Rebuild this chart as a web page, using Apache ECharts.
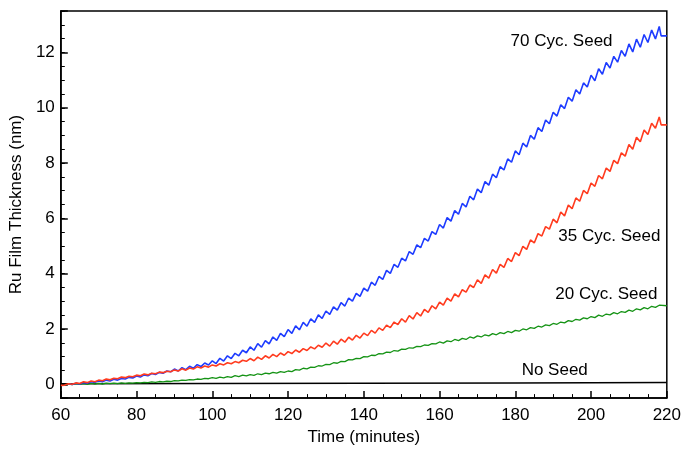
<!DOCTYPE html>
<html>
<head>
<meta charset="utf-8">
<script src="https://cdn.jsdelivr.net/npm/echarts@6/dist/echarts.min.js"></script>
<style>
html,body{margin:0;padding:0;background:#fff;}
#main{width:684px;height:451px;}
</style>
</head>
<body>
<div id="main"></div>
<script>
// ---- Data (time in minutes, thickness in nm), one value per minute ----
const blueStart = 62;
const blueVals = [
0.02,-0.01,0.04,0.01,0.06,0.04,0.09,0.07,0.12,0.09,
0.15,0.12,0.18,0.15,0.21,0.19,0.25,0.23,0.30,0.26,
0.34,0.31,0.39,0.35,0.43,0.40,0.48,0.45,0.55,0.48,
0.60,0.53,0.65,0.58,0.71,0.64,0.77,0.70,0.85,0.75,
0.94,0.84,1.03,0.93,1.12,1.03,1.23,1.14,1.35,1.23,
1.47,1.34,1.58,1.46,1.71,1.59,1.84,1.72,1.98,1.84,
2.11,1.97,2.24,2.10,2.37,2.24,2.51,2.38,2.65,2.53,
2.80,2.68,2.95,2.83,3.12,3.01,3.29,3.18,3.48,3.37,
3.69,3.58,3.90,3.79,4.12,4.01,4.34,4.23,4.56,4.46,
4.80,4.70,5.04,4.94,5.28,5.18,5.52,5.42,5.78,5.65,
6.03,5.90,6.28,6.15,6.54,6.41,6.80,6.67,7.06,6.93,
7.33,7.20,7.60,7.47,7.87,7.75,8.15,8.03,8.44,8.30,
8.72,8.58,9.00,8.86,9.28,9.14,9.56,9.42,9.84,9.70,
10.11,9.97,10.38,10.24,10.65,10.50,10.90,10.75,11.18,10.98,
11.41,11.21,11.64,11.44,11.86,11.65,12.07,11.86,12.31,12.02,
12.48,12.19,12.65,12.36,12.81,12.49,12.94
];
const redStart = 60;
const redVals = [
-0.04,-0.03,
0.02,0.00,0.05,0.03,0.09,0.06,0.12,0.09,0.15,0.13,
0.19,0.16,0.22,0.20,0.26,0.24,0.29,0.27,0.33,0.31,
0.37,0.34,0.40,0.38,0.44,0.42,0.47,0.45,0.52,0.48,
0.56,0.51,0.59,0.55,0.63,0.59,0.66,0.62,0.70,0.66,
0.74,0.70,0.78,0.74,0.82,0.78,0.87,0.83,0.93,0.85,
0.98,0.90,1.03,0.95,1.08,1.00,1.13,1.05,1.18,1.11,
1.24,1.16,1.29,1.22,1.35,1.28,1.41,1.34,1.49,1.38,
1.56,1.45,1.63,1.52,1.70,1.60,1.77,1.67,1.85,1.76,
1.95,1.85,2.04,1.95,2.14,2.05,2.25,2.16,2.37,2.25,
2.48,2.36,2.59,2.47,2.71,2.60,2.84,2.73,2.97,2.86,
3.12,3.01,3.27,3.16,3.42,3.33,3.59,3.50,3.78,3.65,
3.96,3.84,4.15,4.02,4.34,4.23,4.55,4.44,4.76,4.65,
4.99,4.88,5.22,5.11,5.45,5.36,5.70,5.61,5.97,5.84,
6.23,6.09,6.48,6.35,6.74,6.62,7.01,6.89,7.28,7.16,
7.55,7.43,7.82,7.70,8.10,7.98,8.37,8.25,8.67,8.50,
8.93,8.77,9.20,9.03,9.44,9.26,9.67
];
const greenStart = 62;
const greenVals = [
0.01,-0.01,0.02,0.00,0.02,0.00,0.03,0.01,0.03,0.01,
0.04,0.02,0.04,0.02,0.05,0.03,0.05,0.04,0.06,0.05,
0.07,0.06,0.09,0.07,0.10,0.09,0.11,0.10,0.13,0.12,
0.15,0.14,0.17,0.16,0.19,0.18,0.21,0.20,0.24,0.21,
0.26,0.23,0.28,0.25,0.31,0.28,0.33,0.30,0.35,0.32,
0.38,0.35,0.40,0.38,0.43,0.40,0.46,0.43,0.48,0.46,
0.53,0.51,0.58,0.56,0.62,0.61,0.67,0.66,0.72,0.71,
0.78,0.76,0.83,0.82,0.89,0.88,0.94,0.93,1.00,0.99,
1.05,1.04,1.11,1.10,1.16,1.15,1.22,1.20,1.27,1.26,
1.32,1.31,1.37,1.36,1.42,1.41,1.47,1.46,1.53,1.49,
1.57,1.54,1.62,1.58,1.66,1.62,1.71,1.67,1.75,1.71,
1.79,1.75,1.83,1.79,1.87,1.83,1.91,1.87,1.95,1.92,
2.00,1.97,2.05,2.02,2.10,2.07,2.15,2.12,2.20,2.17,
2.25,2.22,2.30,2.27,2.35,2.32,2.40,2.37,2.45,2.41,
2.50,2.46,2.54,2.51,2.59,2.55,2.63,2.60,2.68,2.64,
2.73,2.69,2.77,2.73,2.82,2.78,2.86
];
const tailTimes = [218.5, 220];
const blueTail = [12.6, 12.6];
const redTail = [9.38, 9.38];
const greenTail = [2.84, 2.84];
const blackTimes = [60, 100, 140, 180, 220];
const blackVals = [0.02, 0.03, 0.04, 0.05, 0.06];

const labelNames = ['70 Cyc. Seed', '35 Cyc. Seed', '20 Cyc. Seed', 'No Seed'];
const labelTimes = [192.2, 218.3, 217.5, 190.4];
const labelVals = [12.42, 5.35, 3.24, 0.49];
const labelAlign = ['center', 'right', 'right', 'center'];

const xTicks = [60, 80, 100, 120, 140, 160, 180, 200, 220];

function build(start, vals, tailT, tailV) {
  const d = vals.map((v, i) => [start + i, v]);
  if (tailT) tailT.forEach((t, i) => d.push([t, tailV[i]]));
  return d;
}

const FONT = '"Liberation Sans", Arial, Helvetica, sans-serif';
const chart = echarts.init(document.getElementById('main'), null, {renderer: 'canvas'});
const option = {
  animation: false,
  backgroundColor: '#fff',
  grid: {left: 58, right: 16, top: 11, bottom: 49, show: true, borderColor: '#000', borderWidth: 1.5, backgroundColor: 'transparent'},
  xAxis: {
    type: 'value', min: xTicks[0], max: xTicks[xTicks.length - 1], interval: 20,
    name: 'Time (minutes)', nameLocation: 'middle', nameGap: 28,
    nameTextStyle: {fontFamily: FONT, fontSize: 17, color: '#000'},
    axisLine: {onZero: false, lineStyle: {color: '#000', width: 1.5}},
    axisTick: {inside: true, length: 7, lineStyle: {color: '#000', width: 1.5}},
    minorTick: {show: true, splitNumber: 4, length: 4, lineStyle: {color: '#000', width: 1}},
    axisLabel: {fontFamily: FONT, fontSize: 17, color: '#000', margin: 9},
    splitLine: {show: false}
  },
  yAxis: [
    {
      type: 'value', min: -0.5, max: 13.5, interval: 0.5,
      axisLine: {onZero: false, lineStyle: {color: '#000', width: 1.5}},
      axisTick: {inside: true, length: 4, lineStyle: {color: '#000', width: 1}},
      axisLabel: {show: false},
      splitLine: {show: false}
    },
    {
      type: 'value', min: -0.5, max: 13.5, splitNumber: 7, position: 'left',
      name: 'Ru Film Thickness (nm)', nameLocation: 'middle', nameGap: 34,
      nameTextStyle: {fontFamily: FONT, fontSize: 17, color: '#000'},
      axisLine: {show: false, onZero: false},
      axisTick: {inside: true, length: 7, lineStyle: {color: '#000', width: 1.5}},
      axisLabel: {fontFamily: FONT, fontSize: 17, color: '#000', margin: 6,
        formatter: v => (Math.abs(v - Math.round(v / 2) * 2) < 1e-6 ? String(Math.round(v)) : '')},
      splitLine: {show: false}
    }
  ],
  series: [
    {type: 'line', name: 'No Seed', data: blackTimes.map((t, i) => [t, blackVals[i]]),
     showSymbol: false, lineStyle: {color: '#000', width: 1.5}, z: 2},
    {type: 'line', name: '20 Cyc. Seed', data: build(greenStart, greenVals, tailTimes, greenTail),
     showSymbol: false, lineStyle: {color: '#159315', width: 1.3}, z: 3},
    {type: 'line', name: '70 Cyc. Seed', data: build(blueStart, blueVals, tailTimes, blueTail),
     showSymbol: false, lineStyle: {color: '#1e3cff', width: 1.6}, z: 4},
    {type: 'line', name: '35 Cyc. Seed', data: build(redStart, redVals, tailTimes, redTail),
     showSymbol: false, lineStyle: {color: '#ff3b1f', width: 1.6}, z: 5},
    {type: 'scatter', name: 'labels', symbolSize: 0, silent: true, z: 10,
     data: labelNames.map((n, i) => ({
       value: [labelTimes[i], labelVals[i]],
       label: {show: true, position: 'inside', formatter: n, align: labelAlign[i], verticalAlign: 'middle',
               fontFamily: FONT, fontSize: 17, color: '#000', textBorderWidth: 0, opacity: 1}
     }))}
  ]
};
chart.setOption(option);
</script>
</body>
</html>
